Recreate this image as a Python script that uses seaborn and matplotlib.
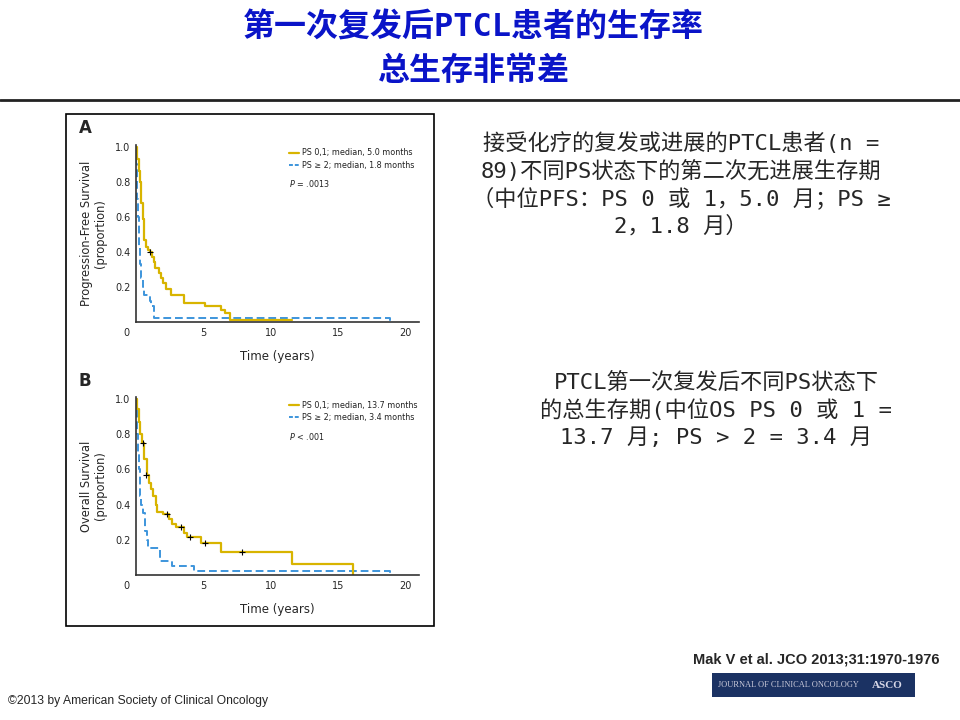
import matplotlib
matplotlib.use("Agg")
import matplotlib.pyplot as plt
import matplotlib.transforms as mtransforms
import seaborn as sns
import pandas as pd
from matplotlib.patches import Rectangle
from matplotlib.lines import Line2D

sns.set_theme(style="white")
plt.rcParams['font.family'] = ['Noto Sans CJK SC', 'DejaVu Sans']

# ---- data ----
# panel A: progression-free survival
pfs_good_t = [0, 0.1, 0.2, 0.3, 0.4, 0.5, 0.6, 0.75, 0.9, 1.03, 1.2, 1.3, 1.4, 1.7, 1.85, 2.0, 2.2, 2.6, 3.57, 5.1, 6.3, 6.6, 7.0, 11.6]
pfs_good_s = [1.0, 0.93, 0.86, 0.8, 0.68, 0.59, 0.47, 0.43, 0.41, 0.40, 0.37, 0.34, 0.31, 0.28, 0.25, 0.22, 0.19, 0.155, 0.11, 0.09, 0.07, 0.05, 0.013, 0.013]
pfs_poor_t = [0, 0.03, 0.06, 0.1, 0.15, 0.2, 0.25, 0.3, 0.4, 0.5, 0.57, 1.02, 1.12, 1.3, 18.85, 18.85]
pfs_poor_s = [1.0, 0.9, 0.8, 0.7, 0.6, 0.5, 0.42, 0.33, 0.25, 0.2, 0.155, 0.12, 0.09, 0.02, 0.02, 0.0]
pfs_cens_t = [1.03]
pfs_cens_s = [0.40]

# panel B: overall survival
os_good_t = [0, 0.1, 0.2, 0.3, 0.45, 0.62, 0.8, 0.94, 1.1, 1.28, 1.48, 1.55, 2.0, 2.46, 2.66, 3.0, 3.57, 3.82, 4.8, 6.28, 11.58, 16.13, 16.13]
os_good_s = [1.0, 0.94, 0.87, 0.8, 0.75, 0.66, 0.57, 0.52, 0.49, 0.45, 0.40, 0.36, 0.345, 0.315, 0.29, 0.27, 0.24, 0.215, 0.18, 0.13, 0.065, 0.065, 0.0]
os_poor_t = [0, 0.04, 0.07, 0.12, 0.2, 0.3, 0.4, 0.5, 0.66, 0.79, 0.89, 1.55, 1.77, 2.7, 4.3, 18.85, 18.85]
os_poor_s = [1.0, 0.9, 0.8, 0.7, 0.6, 0.45, 0.4, 0.35, 0.25, 0.2, 0.155, 0.155, 0.08, 0.05, 0.02, 0.02, 0.0]
os_cens_t = [0.49, 0.74, 2.27, 3.37, 3.99, 5.1, 7.88]
os_cens_s = [0.75, 0.57, 0.345, 0.27, 0.215, 0.18, 0.13]

xticks = [0, 5, 10, 15, 20]
yticks = [0.2, 0.4, 0.6, 0.8, 1.0]

gold = "#D8B400"
blue = "#3D95DC"
navy_title = "#0A14C8"

W, H = 960, 720
fig = plt.figure(figsize=(9.6, 7.2), dpi=100)
fig.patch.set_facecolor("white")


def px_axes(x0, y0, x1, y1):
    return fig.add_axes([x0 / W, 1 - y1 / H, (x1 - x0) / W, (y1 - y0) / H])


sans = ['DejaVu Sans']
cjk_mono = ['DejaVu Sans Mono', 'Noto Sans CJK SC']

# title
fig.text(473 / W, 1 - 28 / H, "第一次复发后PTCL患者的生存率", ha="center", va="center",
         fontsize=23, fontweight="bold", color=navy_title, family=cjk_mono)
fig.text(473 / W, 1 - 71 / H, "总生存非常差", ha="center", va="center",
         fontsize=23, fontweight="bold", color=navy_title, family=cjk_mono)
fig.add_artist(Line2D([0, 1], [1 - 100 / H, 1 - 100 / H], color="#222222", lw=2))

# figure box
fig.add_artist(Rectangle((66 / W, 1 - 626 / H), (434 - 66) / W, (626 - 114) / H,
                         fill=False, edgecolor="black", lw=1.2, transform=fig.transFigure))


def km_panel(ax, good_t, good_s, poor_t, poor_s, cens_t, cens_s, ylab, leg1, leg2, ptxt):
    df_g = pd.DataFrame({"t": good_t, "s": good_s})
    df_p = pd.DataFrame({"t": poor_t, "s": poor_s})
    sns.lineplot(data=df_p, x="t", y="s", ax=ax, color=blue, lw=1.4, estimator=None,
                 sort=False, drawstyle="steps-post", linestyle=(0, (4, 2)))
    sns.lineplot(data=df_g, x="t", y="s", ax=ax, color=gold, lw=1.6, estimator=None,
                 sort=False, drawstyle="steps-post")
    sns.scatterplot(x=cens_t, y=cens_s, ax=ax, marker="+", color="black", s=14,
                    linewidth=0.8, zorder=5)
    ax.set_xlim(0, 21)
    ax.set_ylim(0, 1.01)
    ax.set_xticks(xticks)
    ax.set_yticks(yticks)
    ax.set_xticklabels([""] + [str(v) for v in xticks[1:]], fontsize=7, family=sans)
    ax.set_yticklabels([f"{v:.1f}" for v in yticks], fontsize=7, family=sans)
    # the "0" sits left of the origin, as in the journal figure
    trans = mtransforms.blended_transform_factory(ax.transAxes, ax.transAxes)
    ax.text(-0.035, -0.035, "0", transform=trans, fontsize=7, family=sans,
            ha="center", va="top")
    ax.tick_params(length=0, pad=4)
    for sp in ["top", "right"]:
        ax.spines[sp].set_visible(False)
    for sp in ["left", "bottom"]:
        ax.spines[sp].set_color("#333333")
        ax.spines[sp].set_linewidth(1.2)
    ax.set_xlabel("Time (years)", fontsize=8.5, family=sans, labelpad=9)
    ax.set_ylabel(ylab, fontsize=8.3, family=sans, labelpad=6, linespacing=1.05)
    ax.set_facecolor("white")
    ax.grid(False)
    # legend
    ax.plot([0.54, 0.575], [0.955, 0.955], transform=ax.transAxes, color=gold, lw=1.6)
    ax.plot([0.54, 0.575], [0.885, 0.885], transform=ax.transAxes, color=blue, lw=1.4,
            linestyle=(0, (2, 1)))
    ax.text(0.585, 0.955, leg1, transform=ax.transAxes, fontsize=5.8, va="center",
            family=sans, color="#222222")
    ax.text(0.585, 0.885, leg2, transform=ax.transAxes, fontsize=5.8, va="center",
            family=sans, color="#222222")
    ax.text(0.54, 0.78, ptxt, transform=ax.transAxes, fontsize=5.8, va="center",
            family=sans, color="#222222")


axA = px_axes(136, 145, 419, 322)
km_panel(axA, pfs_good_t, pfs_good_s, pfs_poor_t, pfs_poor_s, pfs_cens_t, pfs_cens_s,
         "Progression-Free Survival\n(proportion)",
         "PS 0,1; median, 5.0 months", "PS ≥ 2; median, 1.8 months", "$P$ = .0013")
axB = px_axes(136, 397, 419, 575)
km_panel(axB, os_good_t, os_good_s, os_poor_t, os_poor_s, os_cens_t, os_cens_s,
         "Overall Survival\n(proportion)",
         "PS 0,1; median, 13.7 months", "PS ≥ 2; median, 3.4 months", "$P$ < .001")

fig.text(79 / W, 1 - 128 / H, "A", fontsize=12, fontweight="bold", va="center", family=sans)
fig.text(79 / W, 1 - 381 / H, "B", fontsize=12, fontweight="bold", va="center", family=sans)

# right-side notes
note1 = ["接受化疗的复发或进展的PTCL患者(n =", "89)不同PS状态下的第二次无进展生存期",
         "（中位PFS：PS 0 或 1，5.0 月；PS ≥", "2，1.8 月）"]
for i, line in enumerate(note1):
    fig.text(681 / W, 1 - (143 + 27.5 * i) / H, line, ha="center", va="center", fontsize=16,
             family=cjk_mono)
note2 = ["PTCL第一次复发后不同PS状态下", "的总生存期(中位OS PS 0 或 1 =", "13.7 月; PS > 2 = 3.4 月"]
for i, line in enumerate(note2):
    fig.text(716 / W, 1 - (382 + 28 * i) / H, line, ha="center", va="center", fontsize=16,
             family=cjk_mono)

# citation and footer
fig.text(816 / W, 1 - 659 / H, "Mak V et al. JCO 2013;31:1970-1976", ha="center", va="center",
         fontsize=10.5, fontweight="bold", family=['Liberation Sans', 'DejaVu Sans'])
fig.add_artist(Rectangle((712 / W, 1 - 697 / H), (915 - 712) / W, 24 / H,
                         facecolor="#1B3263", edgecolor="none", transform=fig.transFigure))
fig.text(718 / W, 1 - 685 / H, "JOURNAL OF CLINICAL ONCOLOGY", va="center", fontsize=6,
         color="#C8C8D8", family=['Liberation Serif', 'DejaVu Serif'])
fig.text(872 / W, 1 - 685 / H, "ASCO", va="center", fontsize=8, fontweight="bold",
         color="#D8D8E8", family=['Liberation Serif', 'DejaVu Serif'])
fig.text(8 / W, 1 - 701 / H, "©2013 by American Society of Clinical Oncology", va="center",
         fontsize=8.7, family=['Liberation Sans', 'DejaVu Sans'])

fig.savefig("out.png", dpi=100, facecolor="white")
